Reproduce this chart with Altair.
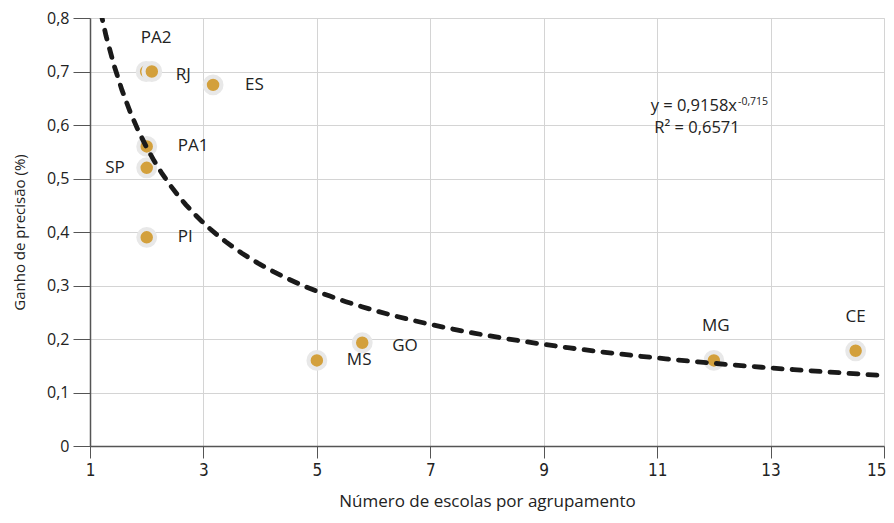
import altair as alt
import pandas as pd

names = ["PA2", "RJ", "ES", "PA1", "SP", "PI", "MS", "GO", "MG", "CE"]
escolas = [1.99, 2.09, 3.17, 2.0, 2.0, 2.0, 5.0, 5.8, 12.0, 14.5]
ganho = [0.70, 0.70, 0.675, 0.56, 0.52, 0.39, 0.16, 0.193, 0.16, 0.178]
x_ticks = [1, 3, 5, 7, 9, 11, 13, 15]
y_ticks = [0, 0.1, 0.2, 0.3, 0.4, 0.5, 0.6, 0.7, 0.8]

df = pd.DataFrame({"name": names, "x": escolas, "y": ganho})

FONT = "Open Sans"
NARROW = "Liberation Sans Narrow, DejaVu Sans Condensed, Open Sans"
GOLD = "#d3a03c"

xs = alt.Scale(domain=[1, 15], nice=False, zero=False)
ys = alt.Scale(domain=[0, 0.8], nice=False)

base = alt.Chart(df)

x_enc = alt.X("x:Q", scale=xs,
              axis=alt.Axis(values=x_ticks, title="Número de escolas por agrupamento",
                            titlePadding=15, tickSize=12, labelPadding=4,
                            labelFontSize=17, titleFontSize=17, titleFontWeight="normal",
                            labelFont=NARROW, titleFont=FONT, labelColor="#222", titleColor="#222",
                            domainColor="#555", domainWidth=1.5, tickColor="#555",
                            gridColor="#d4d4d4", labelFlush=False,
                            labelAlign={"condition": {"test": "datum.value == 15", "value": "right"},
                                        "value": "center"},
                            labelOffset={"condition": {"test": "datum.value == 15", "value": 2},
                                         "value": 0},
                            labelExpr="format(datum.value, 'd')"))
y_enc = alt.Y("y:Q", scale=ys,
              axis=alt.Axis(values=y_ticks, title="Ganho de precisão (%)",
                            titlePadding=19, tickSize=17, labelPadding=4,
                            labelFontSize=16, titleFontSize=15, titleFontWeight="normal",
                            labelFont=FONT, titleFont=FONT, labelColor="#222", titleColor="#222",
                            domainColor="#555", domainWidth=1.5, tickColor="#555",
                            gridColor="#d4d4d4",
                            labelExpr="datum.value == 0 ? '0' : replace(format(datum.value, '.1f'), '.', ',')"))

dots = base.mark_point(filled=True, fill=GOLD, stroke="#e8e8e8", strokeWidth=4.2,
                       opacity=1, size=278).encode(x=x_enc, y=y_enc)

curve = base.transform_regression("x", "y", method="pow", extent=[1, 15.1]).mark_line(
    color="#1a1a1a", strokeWidth=4.8, strokeDash=[9, 10], strokeCap="round", clip=True
).encode(x=alt.X("x:Q", scale=xs), y=alt.Y("y:Q", scale=ys))

offsets = {
    "PA2": ("center", 10, -34),
    "RJ": ("left", 24, 3),
    "ES": ("left", 32, 0),
    "PA1": ("left", 31, 0),
    "SP": ("right", -22, 0),
    "PI": ("left", 31, 0),
    "MS": ("left", 30, 0),
    "GO": ("left", 30, 3),
    "MG": ("center", 2, -34),
    "CE": ("center", 0, -34),
}
labels = []
for n, (al, dx, dy) in offsets.items():
    labels.append(
        base.transform_filter(alt.datum.name == n).mark_text(
            align=al, baseline="middle", dx=dx, dy=dy, fontSize=17, font=FONT, color="#222"
        ).encode(x=alt.X("x:Q", scale=xs), y=alt.Y("y:Q", scale=ys), text="name:N")
    )

ann = pd.DataFrame({"t": [0]})
eq1 = alt.Chart(ann).mark_text(align="right", baseline="middle", fontSize=16.5, font=FONT,
                               color="#222", text="y = 0,9158x").encode(
    x=alt.value(647), y=alt.value(88))
eq_sup = alt.Chart(ann).mark_text(align="left", baseline="middle", fontSize=10.5, font=FONT,
                                  color="#222", text="-0,715").encode(
    x=alt.value(648), y=alt.value(84))
eq2 = alt.Chart(ann).mark_text(align="center", baseline="middle", fontSize=16.5, font=FONT,
                               color="#222", text="R² = 0,6571").encode(
    x=alt.value(607), y=alt.value(110))

chart = alt.layer(dots, curve, *labels, eq1, eq_sup, eq2).properties(
    width=794, height=428,
    autosize=alt.AutoSizeParams(type="none"),
    padding={"left": 82, "top": 10, "right": 2, "bottom": 68},
).configure_view(stroke=None).configure(background="white")

chart.save("out.html", embed_options={"renderer": "svg", "actions": False})
